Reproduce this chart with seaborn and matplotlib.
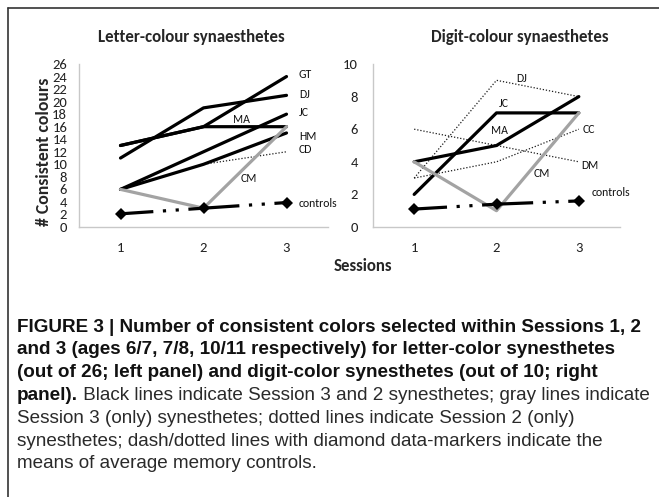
import matplotlib
matplotlib.use("Agg")
import matplotlib.pyplot as plt
import seaborn as sns
import pandas as pd
from matplotlib.lines import Line2D

# ---------------- data ----------------
sessions = [1, 2, 3]
session_labels = ["1", "2", "3"]

# Letter-colour synaesthetes (out of 26)
letter_GT = [13, 16, 24]
letter_DJ = [11, 19, 21]
letter_JC = [6, 12, 18]
letter_MA = [13, 16, 16]
letter_HM = [6, 10, 15]
letter_CD = [6, 10, 12]
letter_CM = [6, 3, 16]
letter_controls = [2.1, 3.0, 3.9]
letter_yticks = list(range(0, 27, 2))

# Digit-colour synaesthetes (out of 10)
digit_DJ = [3, 9, 8]
digit_JC = [2, 7, 7]
digit_MA = [4, 5, 8]
digit_CM = [4, 1, 7]
digit_CC = [3, 4, 6]
digit_DM = [6, 5, 4]
digit_controls = [1.1, 1.4, 1.6]
digit_yticks = list(range(0, 11, 2))

letter_kind = {"CD": "dotted", "GT": "black", "DJ": "black", "JC": "black",
               "MA": "black", "HM": "black", "CM": "gray", "controls": "control"}
digit_kind = {"DJ": "dotted", "CC": "dotted", "DM": "dotted", "JC": "black",
              "MA": "black", "CM": "gray", "controls": "control"}

letter_series = {"GT": letter_GT, "DJ": letter_DJ, "JC": letter_JC, "MA": letter_MA,
                 "HM": letter_HM, "CD": letter_CD, "CM": letter_CM,
                 "controls": letter_controls}
digit_series = {"DJ": digit_DJ, "JC": digit_JC, "MA": digit_MA, "CM": digit_CM,
                "CC": digit_CC, "DM": digit_DM, "controls": digit_controls}

# label anchors (x, y in data units, ha)
letter_label_pos = {"GT": (3.15, 24.4, "left"), "DJ": (3.15, 21.2, "left"),
                    "JC": (3.15, 18.3, "left"), "HM": (3.15, 14.5, "left"),
                    "CD": (3.15, 12.4, "left"), "MA": (2.46, 17.1, "center"),
                    "CM": (2.55, 7.8, "center"), "controls": (3.15, 3.8, "left")}
digit_label_pos = {"DJ": (2.3, 9.1, "center"), "JC": (2.09, 7.6, "center"),
                   "MA": (2.03, 5.9, "center"), "CC": (3.04, 6.0, "left"),
                   "DM": (3.03, 3.8, "left"), "CM": (2.55, 3.3, "center"),
                   "controls": (3.15, 2.1, "left")}


def to_long(series):
    rows = []
    for name, vals in series.items():
        for s, v in zip(sessions, vals):
            rows.append({"subject": name, "session": s, "value": v})
    return pd.DataFrame(rows)


letter_df = to_long(letter_series)
digit_df = to_long(digit_series)

# ---------------- style ----------------
sns.set_style("white")
CHART_FONT = ["Carlito", "Lato", "DejaVu Sans"]
plt.rcParams["font.family"] = CHART_FONT

STYLE = {
    "black": dict(color="black", linewidth=2.3),
    "gray": dict(color="#a3a3a3", linewidth=2.3),
    "dotted": dict(color="#1a1a1a", linewidth=0.9, linestyle=(0, (1, 1.5))),
    "control": dict(color="black", linewidth=2.3, linestyle=(5.7, (16, 3, 1, 3, 1, 3)),
                    marker="D", markersize=6.5, markeredgewidth=0),
}
ORDER = ["dotted", "black", "gray", "control"]

W, H = 659, 497
fig = plt.figure(figsize=(W / 100, H / 100), dpi=100)
fig.patch.set_facecolor("white")


def px_axes(x0, x1, ytop, ybot):
    return fig.add_axes([x0 / W, 1 - ybot / H, (x1 - x0) / W, (ybot - ytop) / H])


ax1 = px_axes(79, 328, 64, 227)
ax2 = px_axes(373, 620, 64, 227)


def draw(ax, df, kinds, label_pos, ymax, yticks, ylab_size, ypad):
    for kind in ORDER:
        for subj, k in kinds.items():
            if k != kind:
                continue
            d = df[df["subject"] == subj]
            sns.lineplot(data=d, x="session", y="value", ax=ax, legend=False,
                         errorbar=None, **STYLE[kind])
    for subj, (x, y, ha) in label_pos.items():
        ax.text(x, y, subj, ha=ha, va="center", fontsize=8.5, color="#111111")
    ax.set_xlim(0.5, 3.5)
    ax.set_ylim(0, ymax)
    ax.set_xticks(sessions)
    ax.set_xticklabels(session_labels)
    ax.set_yticks(yticks)
    ax.set_yticklabels([str(t) for t in yticks])
    ax.tick_params(axis="x", length=0, pad=11, labelsize=10.5, colors="#222222")
    ax.tick_params(axis="y", length=0, pad=ypad, labelsize=ylab_size, colors="#222222")
    ax.set_xlabel("")
    ax.set_ylabel("")
    for s in ["top", "right"]:
        ax.spines[s].set_visible(False)
    for s in ["left", "bottom"]:
        ax.spines[s].set_color("#c8c8c8")
        ax.spines[s].set_linewidth(1.0)
    ax.patch.set_alpha(0)


draw(ax1, letter_df, letter_kind, letter_label_pos, 26, letter_yticks, 10.5, 8.5)
draw(ax2, digit_df, digit_kind, digit_label_pos, 10, digit_yticks, 10.5, 11)

# titles and axis labels
fig.text(191 / W, 1 - 37 / H, "Letter-colour synaesthetes", ha="center", va="center",
         fontsize=12.2, fontweight="bold")
fig.text(520 / W, 1 - 37 / H, "Digit-colour synaesthetes", ha="center", va="center",
         fontsize=12.2, fontweight="bold")
fig.text(44 / W, 1 - 152 / H, "# Consistent colours", ha="center", va="center",
         rotation=90, fontsize=12.8, fontweight="bold")
fig.text(363 / W, 1 - 266 / H, "Sessions", ha="center", va="center",
         fontsize=12.2, fontweight="bold")

# frame lines
fig.add_artist(Line2D([8 / W, 1], [1 - 8 / H, 1 - 8 / H], color="#333333", linewidth=1.2))
fig.add_artist(Line2D([8 / W, 8 / W], [0, 1 - 8 / H], color="#333333", linewidth=1.2))

# caption
CAP_FONT = ["Liberation Sans Narrow", "Liberation Sans", "DejaVu Sans"]
cap_size = 13.6
cap_lines = [
    [("FIGURE 3 | Number of consistent colors selected within Sessions 1, 2", "bold")],
    [("and 3 (ages 6/7, 7/8, 10/11 respectively) for letter-color synesthetes", "bold")],
    [("(out of 26; left panel) and digit-color synesthetes (out of 10; right", "bold")],
    [("panel).", "bold"), (" Black lines indicate Session 3 and 2 synesthetes; gray lines indicate", "normal")],
    [("Session 3 (only) synesthetes; dotted lines indicate Session 2 (only)", "normal")],
    [("synesthetes; dash/dotted lines with diamond data-markers indicate the", "normal")],
    [("means of average memory controls.", "normal")],
]
fig.canvas.draw()
renderer = fig.canvas.get_renderer()
y0 = 327
for i, runs in enumerate(cap_lines):
    x = 17 / W
    y = 1 - (y0 + i * 22.8) / H
    for txt, wt in runs:
        t = fig.text(x, y, txt, ha="left", va="center", fontsize=cap_size,
                     fontweight=wt, family=CAP_FONT,
                     color="#111111" if wt == "bold" else "#2a2a2a")
        bb = t.get_window_extent(renderer=renderer)
        x = x + bb.width / W

fig.savefig("out.png", dpi=100, facecolor="white")
